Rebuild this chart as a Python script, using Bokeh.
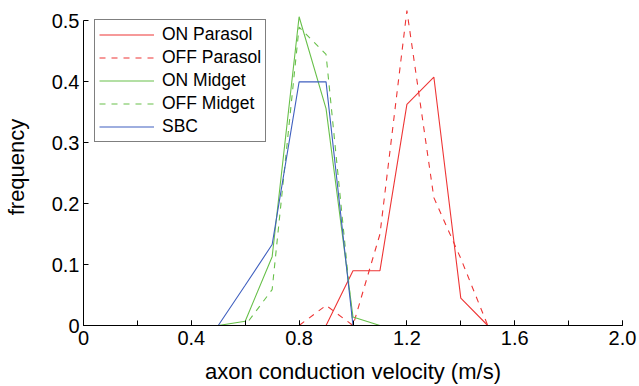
from bokeh.plotting import figure
from bokeh.models import FixedTicker, Range1d
from bokeh.embed import file_html
from bokeh.resources import INLINE

# ---- data ----
velocity = [0.0, 0.1, 0.2, 0.3, 0.4, 0.5, 0.6, 0.7, 0.8, 0.9, 1.0,
            1.1, 1.2, 1.3, 1.4, 1.5, 1.6, 1.7, 1.8, 1.9, 2.0]
on_parasol = [0, 0, 0, 0, 0, 0, 0, 0, 0, 0, 0.09,
              0.09, 0.363, 0.408, 0.045, 0, 0, 0, 0, 0, 0]
off_parasol = [0, 0, 0, 0, 0, 0, 0, 0, 0, 0.033, 0,
               0.15, 0.517, 0.21, 0.11, 0, 0, 0, 0, 0, 0]
on_midget = [0, 0, 0, 0, 0, 0, 0.007, 0.113, 0.507, 0.356, 0.014,
             0, 0, 0, 0, 0, 0, 0, 0, 0, 0]
off_midget = [0, 0, 0, 0, 0, 0, 0, 0.059, 0.49, 0.445, 0,
              0, 0, 0, 0, 0, 0, 0, 0, 0, 0]
sbc = [0, 0, 0, 0, 0, 0, 0.066, 0.133, 0.4, 0.4, 0,
       0, 0, 0, 0, 0, 0, 0, 0, 0, 0]

series_names = ["ON Parasol", "OFF Parasol", "ON Midget", "OFF Midget", "SBC"]

x_ticks = [0.0, 0.4, 0.8, 1.2, 1.6, 2.0]
x_tick_labels = ["0", "0.4", "0.8", "1.2", "1.6", "2.0"]
x_minor_ticks = [0.0, 0.2, 0.4, 0.6, 0.8, 1.0, 1.2, 1.4, 1.6, 1.8, 2.0]
y_ticks = [0.0, 0.1, 0.2, 0.3, 0.4, 0.5]
y_tick_labels = ["0", "0.1", "0.2", "0.3", "0.4", "0.5"]

RED = "#ee3535"
GREEN = "#68c04a"
BLUE = "#3f5fbf"
FONT = "Liberation Sans"

p = figure(width=639, height=386, output_backend="svg", toolbar_location=None,
           x_range=Range1d(0, 2.0), y_range=Range1d(0, 0.5205),
           min_border_left=81, min_border_right=17, min_border_top=8,
           min_border_bottom=60)
p.outline_line_color = None
p.xgrid.visible = False
p.ygrid.visible = False
p.background_fill_color = "white"
p.border_fill_color = "white"

specs = [(on_parasol, RED, "solid"), (off_parasol, RED, "dashed"),
         (on_midget, GREEN, "solid"), (off_midget, GREEN, "dashed"),
         (sbc, BLUE, "solid")]
for name, (vals, col, dash) in zip(series_names, specs):
    p.line(velocity, vals, line_color=col, line_width=1.1, line_dash=dash,
           line_alpha=1.0, legend_label=name)

# axes
xa = p.xaxis[0]
xa.ticker = FixedTicker(ticks=x_ticks, minor_ticks=x_minor_ticks)
xa.major_label_overrides = {t: l for t, l in zip(x_ticks, x_tick_labels)}
xa.bounds = (0, 2.0)
ya = p.yaxis[0]
ya.ticker = FixedTicker(ticks=y_ticks, minor_ticks=[])
ya.major_label_overrides = {t: l for t, l in zip(y_ticks, y_tick_labels)}
ya.bounds = (0, 0.5)

for ax in (xa, ya):
    ax.major_tick_in = 5
    ax.major_tick_out = 0
    ax.minor_tick_in = 5
    ax.minor_tick_out = 0
    ax.axis_line_color = "black"
    ax.major_tick_line_color = "black"
    ax.minor_tick_line_color = "black"
    ax.major_label_text_font = FONT
    ax.major_label_text_font_size = "20px"
    ax.major_label_text_color = "black"
    ax.axis_label_text_font = FONT
    ax.axis_label_text_font_size = "22px"
    ax.axis_label_text_font_style = "normal"
    ax.axis_label_text_color = "black"

xa.axis_label = "axon conduction velocity (m/s)"
xa.major_label_standoff = 5
xa.axis_label_standoff = 11
ya.axis_label = "frequency"
ya.major_label_standoff = 4
ya.axis_label_standoff = 20

legend = p.legend[0]
legend.location = "top_left"
legend.margin = 11
legend.padding = 4
legend.spacing = 2
legend.glyph_width = 55
legend.glyph_height = 21
legend.label_height = 21
legend.label_standoff = 8
legend.label_text_font = FONT
legend.label_text_font_size = "17.5px"
legend.label_text_color = "black"
legend.border_line_color = "black"
legend.border_line_width = 1
legend.background_fill_color = "white"
legend.background_fill_alpha = 1.0

open("out.html", "w").write(file_html(p, INLINE))
